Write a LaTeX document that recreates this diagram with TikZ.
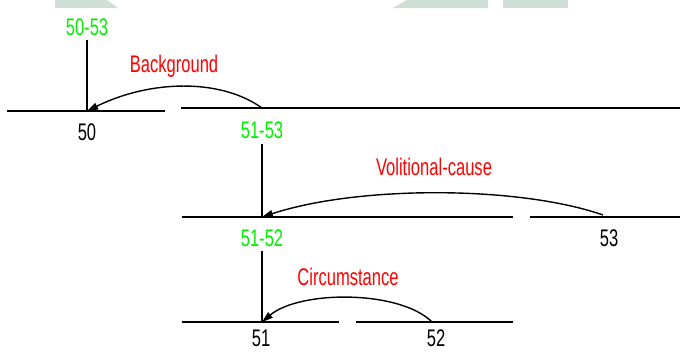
\documentclass[tikz,border=0pt]{standalone}
\usepackage{fontspec}
\usetikzlibrary{arrows.meta}
\newfontfamily\diagfont[FakeStretch=0.69]{Liberation Sans}
\definecolor{cspan}{HTML}{00F000}
\definecolor{crel}{HTML}{FF0000}
\definecolor{cshade}{HTML}{CFDED6}
\tikzset{
  every picture/.style={x=1pt, y=-1pt, line width=1.6pt},
  seg/.style={draw=black, line width=1.6pt},
  txt/.style={font=\diagfont\fontsize{24}{28}\selectfont, inner sep=0pt, anchor=base},
  span/.style={txt, text=cspan},
  unit/.style={txt, text=black},
  rellabel/.style={txt, text=crel},
  rel/.style={-{Triangle[length=11pt, width=7pt]}, draw=black, line width=1.4pt},
}

\begin{document}
\begin{tikzpicture}
  \useasboundingbox (0,0) rectangle (680,351);
  % faint shading along the top edge
  \fill[cshade] (55,0) -- (107,0) -- (118,8) -- (55,8) -- cycle;
  \fill[cshade] (407,0) -- (488,0) -- (488,8) -- (393,8) -- cycle;
  \fill[cshade] (503,0) -- (568,0) -- (568,8) -- (503,8) -- cycle;
  % top level: 50 and 51-53
  \node[span] (s5053) at (87,35) {50-53};
  \draw[seg] (7,111) -- (165,111);
  \draw[seg] (181,108) -- (680,108);
  \coordinate (p50) at (87,111);
  \coordinate (p5153) at (262,108);
  \draw[seg] (87,40) -- (p50);
  \node[unit] (u50) at (87,140) {50};
  \node[span] (s5153) at (262,138) {51-53};
  \node[rellabel] (lbg) at (174,72) {Background};
  \draw[rel] (p5153) .. controls (220,78) and (150,80) .. (p50);
  % middle level: 51-52 and 53
  \draw[seg] (182,217) -- (513,217);
  \draw[seg] (530,217) -- (680,217);
  \coordinate (p5152) at (262,217);
  \coordinate (p53) at (603,215);
  \draw[seg] (262,144) -- (p5152);
  \node[span] (s5152) at (262,246) {51-52};
  \node[unit] (u53) at (609,246) {53};
  \node[rellabel] (lvc) at (434,175) {Volitional-cause};
  \draw[rel] (p53) .. controls (520,186) and (360,185) .. (p5152);
  % bottom level: 51 and 52
  \draw[seg] (182,322) -- (339,322);
  \draw[seg] (356,322) -- (513,322);
  \coordinate (p51) at (262,322);
  \coordinate (p52) at (432,322);
  \draw[seg] (262,251) -- (p51);
  \node[unit] (u51) at (261,346) {51};
  \node[unit] (u52) at (436,346) {52};
  \node[rellabel] (lci) at (348,285) {Circumstance};
  \draw[rel] (p52) .. controls (400,290) and (300,290) .. (p51);
\end{tikzpicture}
\end{document}
